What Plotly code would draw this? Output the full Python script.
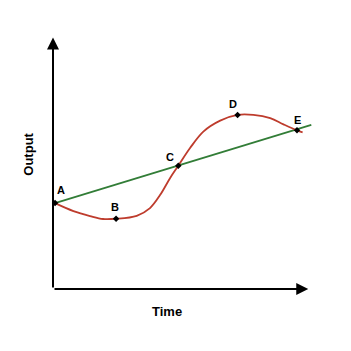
import plotly.graph_objects as go

# Curve (red)
curve_x = [0.08, 0.80, 1.45, 1.96, 2.47, 3.28, 3.80, 4.20, 4.59, 4.91, 5.37, 5.89, 6.55, 7.23, 7.85, 8.51, 9.03, 9.56, 9.78]
curve_y = [3.45, 3.13, 2.93, 2.81, 2.82, 2.94, 3.25, 3.78, 4.46, 4.95, 5.66, 6.32, 6.76, 6.99, 6.99, 6.86, 6.61, 6.37, 6.29]

# Straight line (green)
line_x = [0.08, 10.12]
line_y = [3.45, 6.59]

# Labelled points
pt_names = ["A", "B", "C", "D", "E"]
pt_x = [0.08, 2.47, 4.91, 7.23, 9.56]
pt_y = [3.45, 2.82, 4.95, 6.99, 6.37]
lbl_x = [0.31, 2.43, 4.59, 7.06, 9.57]
lbl_y = [3.98, 3.29, 5.30, 7.43, 6.79]

fig = go.Figure()
fig.add_trace(go.Scatter(x=line_x, y=line_y, mode="lines",
                         line=dict(color="rgb(50,125,55)", width=1.8), cliponaxis=False))
fig.add_trace(go.Scatter(x=curve_x, y=curve_y, mode="lines",
                         line=dict(color="rgb(190,60,45)", width=1.8, shape="spline", smoothing=1.0),
                         cliponaxis=False))
fig.add_trace(go.Scatter(x=pt_x, y=pt_y, mode="markers",
                         marker=dict(color="black", size=5, symbol="diamond"), cliponaxis=False))

font = dict(family="Liberation Sans, Arial", size=11, color="black")
anns = []
for n, x, y in zip(pt_names, lbl_x, lbl_y):
    anns.append(dict(x=x, y=y, xref="x", yref="y", text="<b>%s</b>" % n, showarrow=False, font=font))
# axes arrows
anns.append(dict(x=10.0, y=0, ax=0, ay=0, xref="x", yref="y", axref="x", ayref="y",
                 showarrow=True, arrowhead=2, arrowsize=1.2, arrowwidth=2, arrowcolor="black", text=""))
anns.append(dict(x=0, y=10.1, ax=0, ay=0, xref="x", yref="y", axref="x", ayref="y",
                 showarrow=True, arrowhead=2, arrowsize=1.2, arrowwidth=2, arrowcolor="black", text=""))
anns.append(dict(x=0.427, y=-0.085, xref="paper", yref="paper", text="<b>Time</b>", showarrow=False,
                 xanchor="center", yanchor="middle",
                 font=dict(family="Liberation Sans, Arial", size=13, color="black")))
anns.append(dict(x=-0.090, y=0.522, xref="paper", yref="paper", text="<b>Output</b>", showarrow=False,
                 xanchor="center", yanchor="middle", textangle=-90,
                 font=dict(family="Liberation Sans, Arial", size=13, color="black")))

fig.update_layout(
    width=351, height=351,
    margin=dict(l=53, r=30, t=30, b=62),
    paper_bgcolor="white", plot_bgcolor="white",
    showlegend=False,
    annotations=anns,
    xaxis=dict(range=[0, 10.5], visible=False, fixedrange=True),
    yaxis=dict(range=[0, 10.4], visible=False, fixedrange=True),
)
fig.write_html("out.html")
